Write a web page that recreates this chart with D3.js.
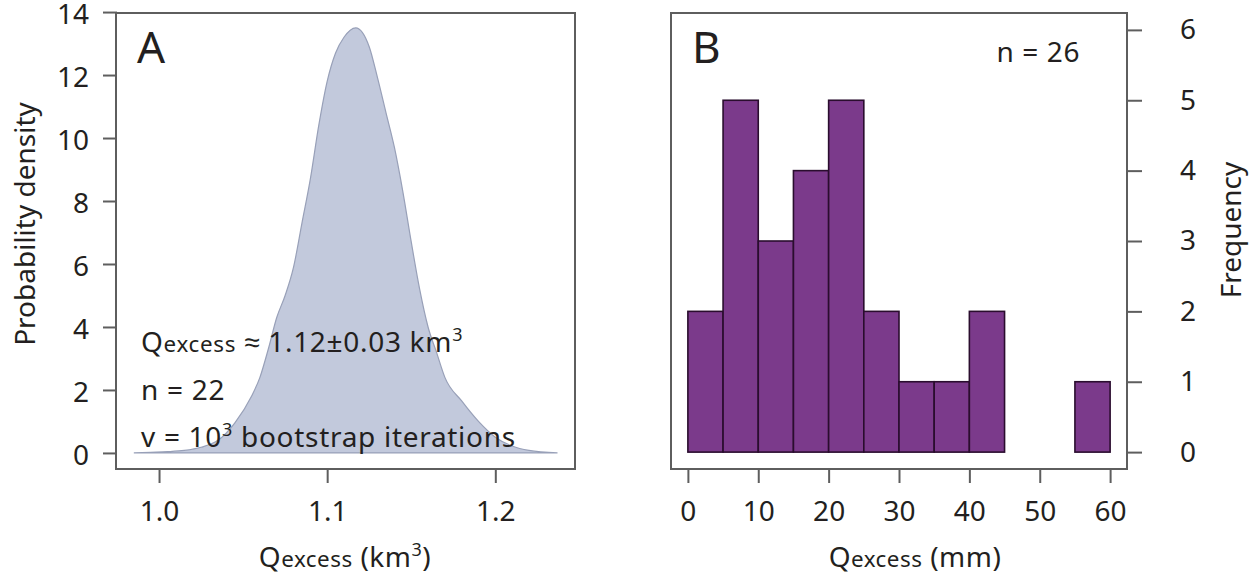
<!DOCTYPE html>
<html>
<head>
<meta charset="utf-8">
<script src="https://cdn.jsdelivr.net/npm/d3@7"></script>
<style>
  body { margin: 0; background: #fff; }
  text { font-family: "Noto Sans", sans-serif; fill: #231f20; }
</style>
</head>
<body>
<div id="chart"></div>
<script>
// Panel A: bootstrap density of Qexcess (km3)
const densityX = [0.985, 0.995, 1.005, 1.015, 1.025, 1.035, 1.045, 1.055, 1.060, 1.065,
  1.070, 1.075, 1.080, 1.085, 1.090, 1.095, 1.100, 1.105, 1.110, 1.117,
  1.125, 1.130, 1.135, 1.140, 1.145, 1.150, 1.155, 1.160, 1.165, 1.170,
  1.180, 1.190, 1.200, 1.210, 1.220, 1.237];
const densityY = [0, 0.02, 0.04, 0.08, 0.18, 0.4, 0.95, 1.8, 2.4, 3.3,
  4.3, 5.0, 5.9, 7.3, 8.7, 10.4, 11.8, 12.7, 13.2, 13.5,
  12.9, 11.9, 10.8, 9.7, 8.3, 6.7, 5.2, 4.0, 3.2, 2.4,
  1.65, 1.0, 0.5, 0.22, 0.08, 0];
const densityTicksX = [1.0, 1.1, 1.2];
const densityTicksY = [0, 2, 4, 6, 8, 10, 12, 14];

// Panel B: histogram of Qexcess (mm)
const binStart = [0, 5, 10, 15, 20, 25, 30, 35, 40, 45, 50, 55];
const binWidth = 5;
const binCounts = [2, 5, 3, 4, 5, 2, 1, 1, 2, 0, 0, 1];
const histTicksX = [0, 10, 20, 30, 40, 50, 60];
const histTicksY = [0, 1, 2, 3, 4, 5, 6];

const W = 1256, H = 575;
const boxColor = "#5e5e5e";
const tickFont = 28;
const noteFont = 28;

const svg = d3.select("#chart").append("svg")
  .attr("width", W)
  .attr("height", H);

// tspans for "Qexcess" style label (small "excess")
function qexcess(sel, size) {
  sel.append("tspan").attr("font-size", size).text("Q");
  sel.append("tspan").attr("font-size", size * 0.8).text("excess");
}

function styleAxis(g) {
  g.select(".domain").remove();
  g.selectAll(".tick line").attr("stroke", boxColor).attr("stroke-width", 2);
  g.selectAll(".tick text")
    .style("font-family", "'Noto Sans', sans-serif")
    .attr("font-size", tickFont)
    .attr("fill", "#231f20");
}

// ---------- Panel A ----------
const ax = d3.scaleLinear().domain([0.9744, 1.2474]).range([116, 575]);
const ay = d3.scaleLinear().domain([-0.51, 13.97]).range([469, 13]);

const densityData = densityX.map((x, i) => ({ x, y: densityY[i] }));

const area = d3.area()
  .x(d => ax(d.x))
  .y0(ay(0))
  .y1(d => ay(d.y))
  .curve(d3.curveMonotoneX);

svg.append("path")
  .datum(densityData)
  .attr("d", area)
  .attr("fill", "#c2c9dc")
  .attr("stroke", "#98a0b8")
  .attr("stroke-width", 1.2);

svg.append("rect")
  .attr("x", 116).attr("y", 13)
  .attr("width", 575 - 116).attr("height", 469 - 13)
  .attr("fill", "none")
  .attr("stroke", boxColor)
  .attr("stroke-width", 2);

svg.append("g")
  .attr("transform", "translate(0,469)")
  .call(d3.axisBottom(ax).tickValues(densityTicksX).tickFormat(d3.format(".1f"))
    .tickSize(14).tickPadding(18))
  .call(styleAxis);

svg.append("g")
  .attr("transform", "translate(117,0)")
  .call(d3.axisLeft(ay).tickValues(densityTicksY).tickSize(14).tickPadding(14))
  .call(styleAxis)
  .call(g => g.selectAll(".tick text").attr("dy", "0.4em"));

svg.append("text")
  .attr("x", 137).attr("y", 63)
  .attr("font-size", 44)
  .text("A");

const noteA = [
  { y: 352, kind: "q" },
  { y: 400, kind: "n" },
  { y: 447, kind: "v" }
];
noteA.forEach(n => {
  const t = svg.append("text")
    .attr("x", 141).attr("y", n.y)
    .attr("font-size", noteFont)
    .attr("letter-spacing", 0.7);
  if (n.kind === "q") {
    qexcess(t, noteFont);
    t.append("tspan").text(" \u2248 1.12\u00b10.03 km");
    t.append("tspan").attr("font-size", 18).attr("dy", -11).text("3");
  } else if (n.kind === "n") {
    t.text("n = 22");
  } else {
    t.append("tspan").text("v = 10");
    t.append("tspan").attr("font-size", 18).attr("dy", -11).text("3");
    t.append("tspan").attr("dy", 11).text(" bootstrap iterations");
  }
});

const xlabA = svg.append("text")
  .attr("x", 345).attr("y", 567)
  .attr("text-anchor", "middle")
  .attr("font-size", 28)
  .attr("letter-spacing", 0.5);
qexcess(xlabA, 28);
xlabA.append("tspan").text(" (km");
xlabA.append("tspan").attr("font-size", 18).attr("dy", -11).text("3");
xlabA.append("tspan").attr("dy", 11).text(")");

svg.append("text")
  .attr("transform", "translate(35,224) rotate(-90)")
  .attr("text-anchor", "middle")
  .attr("font-size", 28)
  .text("Probability density");

// ---------- Panel B ----------
const bx = d3.scaleLinear().domain([-2.4, 62.4]).range([671, 1127]);
const by = d3.scaleLinear().domain([-0.24, 6.24]).range([469, 13]);

svg.append("g")
  .selectAll("rect")
  .data(binStart.map((s, i) => ({ s, c: binCounts[i] })))
  .join("rect")
  .attr("x", d => bx(d.s))
  .attr("y", d => by(d.c))
  .attr("width", d => bx(d.s + binWidth) - bx(d.s))
  .attr("height", d => by(0) - by(d.c))
  .attr("fill", "#7b3a8b")
  .attr("stroke", "#2a0d2e")
  .attr("stroke-width", 1.6);

svg.append("rect")
  .attr("x", 671).attr("y", 13)
  .attr("width", 1127 - 671).attr("height", 469 - 13)
  .attr("fill", "none")
  .attr("stroke", boxColor)
  .attr("stroke-width", 2);

svg.append("g")
  .attr("transform", "translate(0,469)")
  .call(d3.axisBottom(bx).tickValues(histTicksX).tickSize(14).tickPadding(18))
  .call(styleAxis);

svg.append("g")
  .attr("transform", "translate(1127,0)")
  .call(d3.axisRight(by).tickValues(histTicksY).tickFormat(d3.format("d"))
    .tickSize(15).tickPadding(38))
  .call(styleAxis);

svg.append("text")
  .attr("x", 692).attr("y", 63)
  .attr("font-size", 44)
  .text("B");

svg.append("text")
  .attr("x", 1080).attr("y", 62)
  .attr("text-anchor", "end")
  .attr("font-size", 28)
  .attr("letter-spacing", 0.6)
  .text("n = 26");

const xlabB = svg.append("text")
  .attr("x", 915).attr("y", 567)
  .attr("text-anchor", "middle")
  .attr("font-size", 28)
  .attr("letter-spacing", 0.5);
qexcess(xlabB, 28);
xlabB.append("tspan").text(" (mm)");

svg.append("text")
  .attr("transform", "translate(1241,230) rotate(-90)")
  .attr("text-anchor", "middle")
  .attr("font-size", 28)
  .text("Frequency");
</script>
</body>
</html>
